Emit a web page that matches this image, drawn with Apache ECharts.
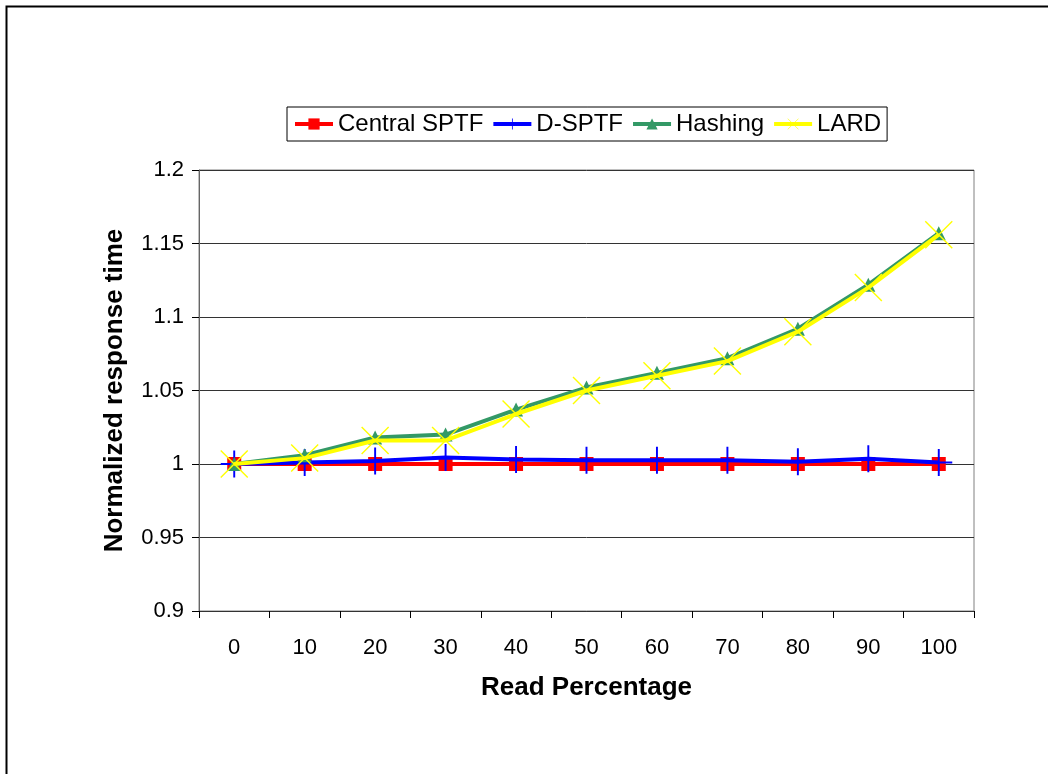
<!DOCTYPE html>
<html>
<head>
<meta charset="utf-8">
<script src="https://cdn.jsdelivr.net/npm/echarts@6/dist/echarts.min.js"></script>
<style>
html,body{margin:0;padding:0;background:#fff;}
#chart{width:1048px;height:774px;}
</style>
</head>
<body>
<div id="chart"></div>
<script>
var categories = ['0','10','20','30','40','50','60','70','80','90','100'];
var centralSPTF = [1.000,1.000,1.000,1.000,1.000,1.000,1.000,1.000,1.000,1.000,1.000];
var dSPTF = [1.000,1.001,1.002,1.0045,1.003,1.0025,1.0025,1.0025,1.0015,1.0035,1.001];
var hashing = [1.000,1.006,1.018,1.020,1.037,1.052,1.062,1.072,1.092,1.122,1.157];
var lard = [1.000,1.004,1.016,1.016,1.034,1.050,1.060,1.070,1.090,1.120,1.156];
var yTicks = ['0.9','0.95','1','1.05','1.1','1.15','1.2'];

var plusPath = 'path://M13,0 L15,0 L15,13 L28,13 L28,15 L15,15 L15,28 L13,28 L13,15 L0,15 L0,13 L13,13 Z';
var xPath = 'path://M0,1 L1,0 L28,27 L27,28 Z M27,0 L28,1 L1,28 L0,27 Z';

var chart = echarts.init(document.getElementById('chart'), null, {renderer:'canvas'});
var font = 'Liberation Sans, Arial, sans-serif';
function mk(name, data, color, symbol, size, z) {
  return {
    name: name, type: 'line', data: data, z: z,
    symbol: symbol, symbolSize: size, showSymbol: true,
    lineStyle: {color: color, width: 4},
    itemStyle: {color: color, borderWidth: 0},
    emphasis: {disabled: true},
    animation: false
  };
}
chart.setOption({
  animation: false,
  backgroundColor: '#fff',
  textStyle: {fontFamily: font},
  graphic: [{
    type: 'rect', left: 4, top: 4, shape: {x: 0, y: 0, width: 1100, height: 1000},
    style: {fill: 'none', stroke: '#000', lineWidth: 2}, silent: true
  }],
  legend: {
    left: 287, top: 107,
    data: ['Central SPTF','D-SPTF','Hashing','LARD'],
    itemWidth: 38, itemHeight: 14, itemGap: 8,
    padding: [5, 6, 5, 6],
    borderColor: '#000', borderWidth: 1,
    lineStyle: {width: 4},
    textStyle: {fontSize: 24, color: '#000', fontFamily: font}
  },
  grid: {left: 199, top: 170, width: 775, height: 441, containLabel: false,
         show: true, borderColor: '#808080', borderWidth: 1},
  xAxis: {
    type: 'category', data: categories, boundaryGap: true,
    name: 'Read Percentage', nameLocation: 'middle', nameGap: 64,
    nameTextStyle: {fontSize: 26, fontWeight: 'bold', color: '#000', fontFamily: font},
    axisLine: {lineStyle: {color: '#333', width: 1}},
    axisTick: {show: true, length: 7, lineStyle: {color: '#000'}},
    axisLabel: {fontSize: 22, color: '#000', margin: 26, fontFamily: font},
    splitLine: {show: false}
  },
  yAxis: {
    type: 'value', min: 0.9, max: 1.2, interval: 0.05,
    name: 'Normalized response time', nameLocation: 'middle', nameGap: 71,
    nameTextStyle: {fontSize: 26, fontWeight: 'bold', color: '#000', fontFamily: font},
    axisLine: {show: true, lineStyle: {color: '#666', width: 1}},
    axisTick: {show: true, length: 7, lineStyle: {color: '#000'}},
    axisLabel: {fontSize: 22, color: '#000', margin: 15, fontFamily: font,
      formatter: function (v) { var s = yTicks.filter(function(t){return Math.abs(parseFloat(t)-v)<1e-6;}); return s.length ? s[0] : ''; }},
    splitLine: {show: true, lineStyle: {color: '#333', width: 1}}
  },
  series: [
    mk('Central SPTF', centralSPTF, '#ff0000', 'rect', 14, 2),
    mk('D-SPTF', dSPTF, '#0000ff', plusPath, 27, 3),
    mk('Hashing', hashing, '#339966', 'triangle', 14, 4),
    mk('LARD', lard, '#ffff00', xPath, 28, 5)
  ]
});
</script>
</body>
</html>
